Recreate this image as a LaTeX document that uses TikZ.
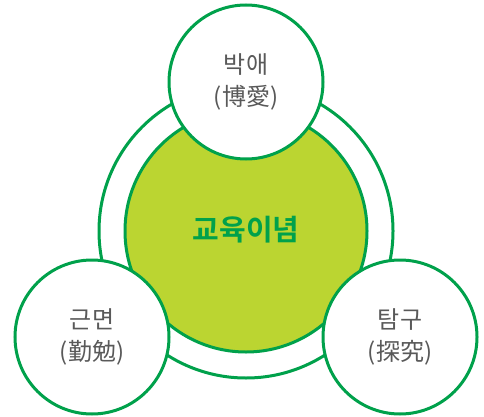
\documentclass[tikz,border=0pt]{standalone}
\usepackage{fontspec}
\newfontfamily\kor{Noto Sans CJK KR}
\newfontfamily\korbold{Noto Sans CJK KR Bold}
\usetikzlibrary{positioning}
\definecolor{edugreen}{HTML}{00A14B}
\definecolor{edulime}{HTML}{BBD531}
\definecolor{edugray}{HTML}{595959}

\begin{document}
\begin{tikzpicture}[x=1pt,y=-1pt]
		\tikzset{ring/.style={draw=edugreen, line width=3pt},
			value/.style={ring, circle, fill=white, minimum size=154pt, inner sep=0pt, align=center,
				text=edugray, font=\kor\fontsize{24}{32}\selectfont}}
		\useasboundingbox (0,0) rectangle (484,417);
		\coordinate (mid) at (246,231);
		\draw[ring, fill=white] (mid) circle (147);
		\node[ring, circle, fill=edulime, minimum size=242pt, inner sep=0pt,
			text=edugreen, font=\korbold\fontsize{29}{30}\selectfont] (core) at (mid) {\raisebox{6pt}{교육이념}};
		\node[value] (love) at (246,82) {박애\\(博愛)};
		\node[value] (diligence) at (92,337) {근면\\(勤勉)};
		\node[value] (inquiry) at (400,337) {탐구\\(探究)};
	\end{tikzpicture}
\end{document}
